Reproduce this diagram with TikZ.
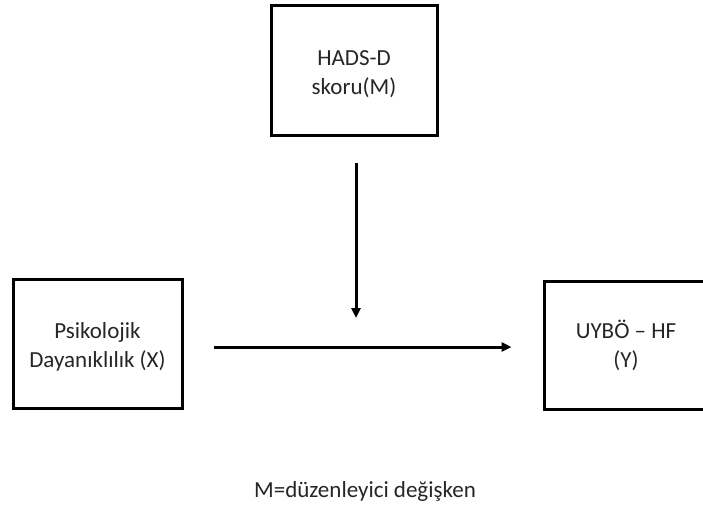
\documentclass[tikz,border=0pt]{standalone}
\usepackage{fontspec}
\setmainfont{Carlito}
\usetikzlibrary{arrows.meta}
\begin{document}
\begin{tikzpicture}[x=1pt,y=-1pt,
  varbox/.style={draw=black,line width=3pt,rectangle,inner sep=0pt},
  lbl/.style={align=center,inner sep=0pt,anchor=base,font=\fontsize{23}{29}\selectfont,text=black!85},
  conn/.style={line width=3pt,-{Triangle[length=10pt,width=9pt]}}]
\useasboundingbox (0,0) rectangle (703,509);
\clip (0,0) rectangle (703,509);
\fill[white] (0,0) rectangle (703,509);
\node[varbox,minimum width=166pt,minimum height=130pt] (M) at (354,70) {};
\node[lbl] (Mt) at (354,94) {HADS-D\\skoru(M)};
\node[varbox,minimum width=169pt,minimum height=129pt] (X) at (97.5,343.5) {};
\node[lbl] (Xt) at (97.5,367) {Psikolojik\\Dayanıklılık (X)};
\node[varbox,minimum width=170pt,minimum height=128pt] (Y) at (629,345) {};
\node[lbl] (Yt) at (626,367) {UYBÖ – HF\\(Y)};
\coordinate (mod) at (356,318);
\draw[conn,shorten <=26pt] (M.south -| mod) -- (mod);
\draw[conn,shorten <=30pt,shorten >=31pt] (X.east |- 0,347) -- (Y.west |- 0,347);
\node[lbl] (cap) at (365,497) {M=düzenleyici değişken};
\end{tikzpicture}
\end{document}
